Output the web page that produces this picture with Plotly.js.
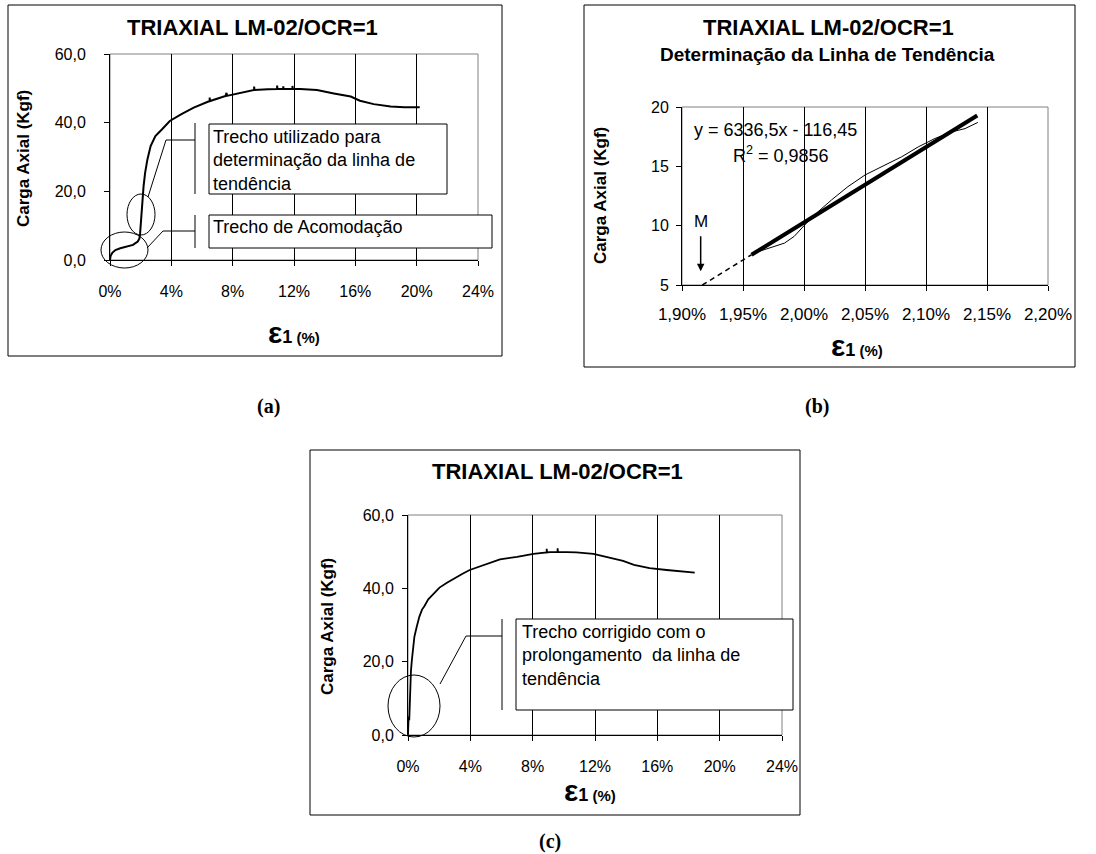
<!DOCTYPE html>
<html>
<head>
<meta charset="utf-8">
<script src="https://cdn.plot.ly/plotly-3.0.1.min.js"></script>
<style>html,body{margin:0;padding:0;background:#fff;}#chart{width:1096px;height:854px;}</style>
</head>
<body>
<div id="chart"></div>
<script>
// ---------- data (strain in %, load in kgf) ----------
const strainA = [0, 0.04, 0.15, 0.35, 0.67, 1.08, 1.5, 1.81, 1.92, 1.96, 2.0, 2.05, 2.10, 2.14, 2.19, 2.29, 2.44, 2.65, 2.96, 3.38, 3.9, 4.63, 5.46, 6.5, 6.5, 6.52, 7.54, 7.6, 7.62, 8.58, 9.4, 9.4, 9.42, 10.3, 10.9, 10.9, 10.92, 11.3, 11.3, 11.32, 11.9, 11.9, 11.92, 12.4, 13.5, 14.6, 15.7, 16.3, 17.2, 18.3, 19.2, 20.2];
const loadA   = [0, 1.2, 2.1, 2.9, 3.4, 3.9, 4.4, 5.4, 6.3, 7.6, 10.0, 14.3, 17.0, 18.7, 21.5, 25.4, 29.3, 33.2, 36.1, 38.0, 40.5, 42.4, 44.4, 46.3, 47.3, 46.3, 47.8, 48.7, 47.8, 48.8, 49.5, 50.5, 49.5, 49.7, 49.8, 50.8, 49.8, 49.8, 50.6, 49.8, 49.8, 50.7, 49.8, 49.8, 49.5, 48.5, 47.6, 46.4, 45.4, 44.7, 44.5, 44.5];

const strainB = [1.957, 1.9706, 1.984, 1.992, 2.0007, 2.0117, 2.0226, 2.036, 2.05, 2.0664, 2.080, 2.0937, 2.1074, 2.121, 2.132, 2.1425];
const loadB   = [7.63, 8.1, 8.53, 9.1, 10.07, 11.19, 12.17, 13.29, 14.27, 15.11, 15.8, 16.64, 17.35, 17.9, 18.18, 18.7];
const trendX  = [1.957, 2.142];
const trendY  = [7.55, 19.28];
const dashX   = [1.9167, 1.957];
const dashY   = [5.0, 7.55];

const strainC = [0, 0.02, 0.05, 0.04, 0.08, 0.1, 0.13, 0.16, 0.19, 0.25, 0.3, 0.41, 0.56, 0.73, 0.9, 1.05, 1.3, 1.59, 2.02, 2.5, 2.88, 3.5, 3.96, 4.85, 5.9, 7.0, 8.05, 8.9, 8.9, 8.92, 9.1, 9.6, 9.6, 9.62, 10.2, 10.8, 11.9, 12.75, 13.8, 14.5, 15.5, 16.6, 17.7, 18.4];
const loadC   = [0, 2, 3, 5, 4, 7.5, 11, 14, 17.5, 20.5, 23, 26.8, 29.5, 32.3, 34.2, 35.1, 37.0, 38.3, 40.2, 41.5, 42.5, 44.0, 45.0, 46.4, 47.9, 48.6, 49.4, 49.8, 50.8, 49.8, 49.9, 49.9, 50.9, 49.9, 49.9, 49.8, 49.4, 48.6, 47.5, 46.4, 45.5, 45.0, 44.5, 44.3];

const titleText = 'TRIAXIAL LM-02/OCR=1';
const subTitleB = 'Determinação da Linha de Tendência';
const yTitle = 'Carga Axial (Kgf)';
const eqText = 'y = 6336,5x - 116,45';
const r2Text = 'R<sup>2</sup> = 0,9856';
const noteA1 = 'Trecho utilizado para<br>determinação da linha de<br>tendência';
const noteA2 = 'Trecho de Acomodação';
const noteC  = 'Trecho corrigido com o<br>prolongamento  da linha de<br>tendência';

// ---------- layout helpers ----------
const W = 1096, H = 854;
const px = x => x / W;
const py = y => 1 - y / H;
const FONT = 'Liberation Sans, Arial, sans-serif';

const traces = [
  {x: strainA, y: loadA, xaxis: 'x', yaxis: 'y', mode: 'lines', line: {color: '#000', width: 2}, hoverinfo: 'skip', showlegend: false},
  {x: strainB, y: loadB, xaxis: 'x2', yaxis: 'y2', mode: 'lines', line: {color: '#000', width: 1}, hoverinfo: 'skip', showlegend: false},
  {x: trendX, y: trendY, xaxis: 'x2', yaxis: 'y2', mode: 'lines', line: {color: '#000', width: 4}, hoverinfo: 'skip', showlegend: false},
  {x: dashX, y: dashY, xaxis: 'x2', yaxis: 'y2', mode: 'lines', line: {color: '#000', width: 1.5, dash: '5px,4px'}, hoverinfo: 'skip', showlegend: false, cliponaxis: false},
  {x: strainC, y: loadC, xaxis: 'x3', yaxis: 'y3', mode: 'lines', line: {color: '#000', width: 1.8}, hoverinfo: 'skip', showlegend: false}
];

function xAx(dom, range, dtick, fmt, standoff, anchor, fs) {
  return {domain: dom, range: range, dtick: dtick, tick0: range[0], tickformat: fmt, ticksuffix: '%',
    showgrid: true, gridcolor: '#000', gridwidth: 1, zeroline: false,
    showline: true, linecolor: '#000', linewidth: 1, ticks: 'outside', ticklen: 5, tickcolor: '#000',
    tickfont: {size: fs || 16, color: '#000', family: FONT}, ticklabelstandoff: standoff, anchor: anchor, fixedrange: true};
}
function yAx(dom, range, dtick, fmt, standoff, anchor) {
  return {domain: dom, range: range, dtick: dtick, tick0: range[0], tickformat: fmt,
    showgrid: false, zeroline: false,
    showline: true, linecolor: '#000', linewidth: 1, ticks: 'outside', ticklen: 5, tickcolor: '#000',
    tickfont: {size: 16, color: '#000', family: FONT}, ticklabelstandoff: standoff, anchor: anchor, fixedrange: true};
}

const domA = {x: [px(110), px(478)], y: [py(260), py(54)]};
const domB = {x: [px(682), px(1048)], y: [py(285), py(107)]};
const domC = {x: [px(408), px(782)], y: [py(735), py(515)]};

const shapes = [];
function rect(x0, y0, x1, y1, color, fill, layer) {
  shapes.push({type: 'rect', xref: 'paper', yref: 'paper', x0: px(x0), x1: px(x1), y0: py(y1), y1: py(y0),
    line: {color: color, width: 1}, fillcolor: fill || 'rgba(0,0,0,0)', layer: layer || 'above'});
}
function line(x0, y0, x1, y1) {
  shapes.push({type: 'line', xref: 'paper', yref: 'paper', x0: px(x0), x1: px(x1), y0: py(y0), y1: py(y1),
    line: {color: '#000', width: 1}, layer: 'above'});
}
function ellipse(x0, y0, x1, y1) {
  shapes.push({type: 'circle', xref: 'paper', yref: 'paper', x0: px(x0), x1: px(x1), y0: py(y1), y1: py(y0),
    line: {color: '#000', width: 1}, layer: 'above'});
}
function plotBorder(dom) {
  shapes.push({type: 'rect', xref: 'paper', yref: 'paper', x0: dom.x[0], x1: dom.x[1], y0: dom.y[0], y1: dom.y[1],
    line: {color: '#808080', width: 1}, layer: 'below'});
}

// outer frames
rect(8, 5, 502, 356, '#000');
rect(584, 5, 1075, 367, '#000');
rect(310, 450, 800, 815, '#000');
plotBorder(domA); plotBorder(domB); plotBorder(domC);

// (a) callouts
ellipse(101, 232, 148, 268);
ellipse(127, 194, 155, 235);
line(148, 197, 166, 140); line(166, 140, 195, 140); line(195, 123, 195, 194);
rect(209, 124, 447, 194, '#000', '#fff');
line(147, 248, 163, 231); line(163, 231, 195, 231); line(195, 215, 195, 248);
rect(209, 215, 492, 248, '#000', '#fff');

// (c) callouts
ellipse(388, 675, 440, 737);
line(440, 684, 466, 636); line(466, 636, 502, 636); line(502, 619, 502, 710);
rect(516, 619, 793, 710, '#000', '#fff');

const annotations = [];
function txt(text, x, y, size, opts) {
  annotations.push(Object.assign({text: text, xref: 'paper', yref: 'paper', x: px(x), y: py(y),
    xanchor: 'center', yanchor: 'middle', showarrow: false, font: {size: size, color: '#000', family: FONT}}, opts || {}));
}
const xTitle = "<b><span style='font-size:30px'>ε</span><span style='font-size:18px'>1</span><span style='font-size:15px'> (%)</span></b>";

txt('<b>' + titleText + '</b>', 252, 27, 22);
txt('<b>' + titleText + '</b>', 828, 27, 22);
txt('<b>' + subTitleB + '</b>', 827, 55, 19);
txt('<b>' + titleText + '</b>', 557, 472, 22);

txt('<b>' + yTitle + '</b>', 23, 159, 17, {textangle: -90});
txt('<b>' + yTitle + '</b>', 600, 196, 17, {textangle: -90});
txt('<b>' + yTitle + '</b>', 327, 627, 17, {textangle: -90});

txt(xTitle, 294, 332, 20);
txt(xTitle, 857, 345, 20);
txt(xTitle, 590, 790, 20);

txt(noteA1, 211, 160, 18, {xanchor: 'left', align: 'left'});
txt(noteA2, 211, 227, 18, {xanchor: 'left', align: 'left'});
txt(noteC, 520, 655, 18, {xanchor: 'left', align: 'left'});

txt(eqText, 692, 130, 18, {xanchor: 'left'});
txt(r2Text, 731, 155, 18, {xanchor: 'left'});

annotations.push({text: 'M', xref: 'x2', yref: 'y2', x: 1.9153, y: 6.15, ax: 0, ay: -50,
  showarrow: true, arrowhead: 2, arrowsize: 1, arrowwidth: 1.5, arrowcolor: '#000', standoff: 0, startstandoff: 4,
  font: {size: 17, color: '#000', family: FONT}});

const SERIF = 'Liberation Serif, Times New Roman, serif';
txt('<b>(a)</b>', 268, 406, 20, {font: {size: 20, color: '#000', family: SERIF}});
txt('<b>(b)</b>', 817, 406, 20, {font: {size: 20, color: '#000', family: SERIF}});
txt('<b>(c)</b>', 550, 841, 20, {font: {size: 20, color: '#000', family: SERIF}});

const layout = {
  width: W, height: H, margin: {l: 0, r: 0, t: 0, b: 0},
  paper_bgcolor: '#fff', plot_bgcolor: 'rgba(0,0,0,0)',
  separators: ',.',
  font: {family: FONT, color: '#000'},
  showlegend: false,
  xaxis: xAx(domA.x, [0, 24], 4, 'd', 12, 'y'),
  yaxis: yAx(domA.y, [0, 60], 20, '.1f', 15, 'x'),
  xaxis2: xAx(domB.x, [1.9, 2.2], 0.05, '.2f', 9, 'y2', 17),
  yaxis2: yAx(domB.y, [5, 20], 5, 'd', 4, 'x2'),
  xaxis3: xAx(domC.x, [0, 24], 4, 'd', 12, 'y3'),
  yaxis3: yAx(domC.y, [0, 60], 20, '.1f', 5, 'x3'),
  shapes: shapes,
  annotations: annotations
};

Plotly.newPlot('chart', traces, layout, {staticPlot: true, displayModeBar: false});
</script>
</body>
</html>
